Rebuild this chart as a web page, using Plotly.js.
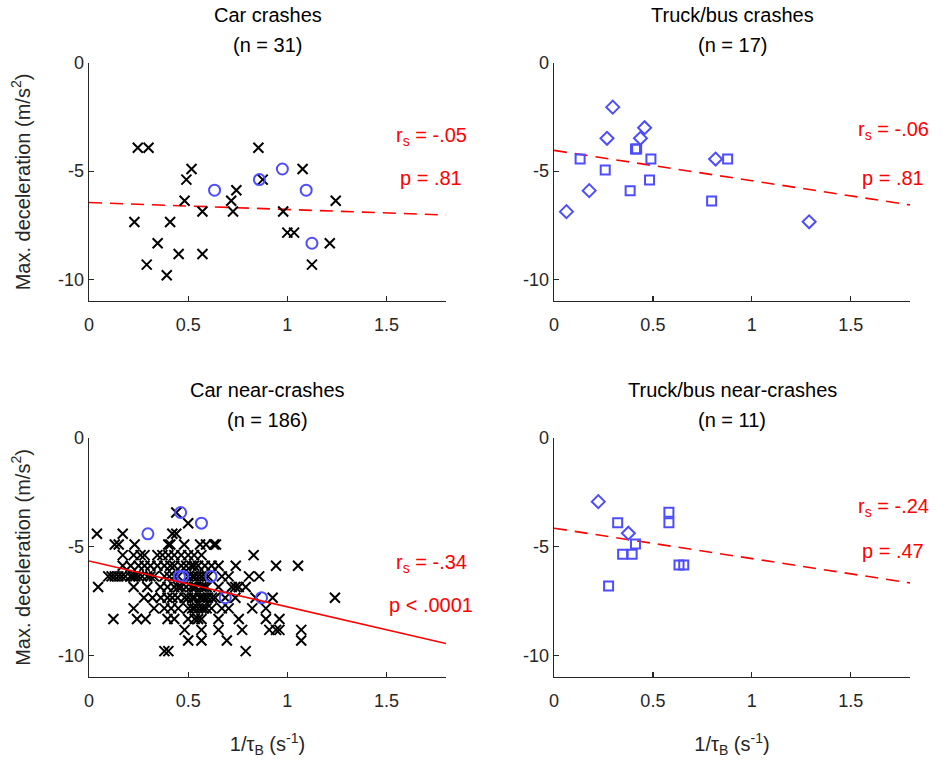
<!DOCTYPE html>
<html>
<head>
<meta charset="utf-8">
<script src="https://cdn.plot.ly/plotly-3.0.1.min.js"></script>
<style>html,body{margin:0;padding:0;background:#fff;}#chart{width:950px;height:763px;}</style>
</head>
<body>
<div id="chart"></div>
<script>
// ---------- DATA ----------
const panelTitles = ["Car crashes", "Truck/bus crashes", "Car near-crashes", "Truck/bus near-crashes"];
const panelCounts = ["(n = 31)", "(n = 17)", "(n = 186)", "(n = 11)"];
const rsLabels = ["r<sub>s</sub> = -.05", "r<sub>s</sub> = -.06", "r<sub>s</sub> = -.34", "r<sub>s</sub> = -.24"];
const pLabels = ["p = .81", "p = .81", "p < .0001", "p = .47"];
const fitIntercept = [-6.45, -4.04, -5.66, -4.15];
const fitSlope = [-0.32, -1.40, -2.11, -1.40];
const fitDash = ["13px,8px", "13px,8px", "solid", "13px,8px"];
const xTickVals = [0, 0.5, 1, 1.5];
const xTickText = ["0", "0.5", "1", "1.5"];
const yTickVals = [0, -5, -10];
const yTickText = ["0", "-5", "-10"];

// Car crashes
const carCrashX = [0.246, 0.30, 0.854, 0.517, 1.077, 0.491, 0.876, 0.743, 0.482, 0.717, 1.244, 0.572, 0.726, 0.979, 0.229, 0.409, 1.0, 1.034, 0.346, 1.214, 0.452, 0.572, 0.291, 1.124, 0.392];
const carCrashY = [-3.92, -3.92, -3.92, -4.90, -4.90, -5.39, -5.39, -5.88, -6.37, -6.37, -6.37, -6.86, -6.86, -6.86, -7.35, -7.35, -7.84, -7.84, -8.33, -8.33, -8.83, -8.83, -9.32, -9.32, -9.81];
const carCrashCircX = [0.633, 0.859, 0.975, 1.095, 1.124];
const carCrashCircY = [-5.88, -5.39, -4.90, -5.88, -8.33];

// Truck/bus crashes
const truckCrashDiaX = [0.297, 0.268, 0.458, 0.437, 0.817, 0.178, 0.063, 1.29];
const truckCrashDiaY = [-2.04, -3.48, -2.99, -3.48, -4.44, -5.90, -6.87, -7.34];
const truckCrashSqX = [0.132, 0.412, 0.418, 0.49, 0.878, 0.259, 0.385, 0.483, 0.797];
const truckCrashSqY = [-4.44, -3.97, -3.97, -4.44, -4.44, -4.94, -5.90, -5.41, -6.38];

// Car near-crashes (crosses)
const carNearX = [
  0.44,
  0.50,
  0.04, 0.17, 0.42, 0.44,
  0.13, 0.15, 0.23, 0.40, 0.41, 0.48, 0.56, 0.59, 0.63, 0.64,
  0.17, 0.225, 0.26, 0.28, 0.345, 0.37, 0.40, 0.43, 0.465, 0.50, 0.53, 0.567, 0.83,
  0.17, 0.21, 0.25, 0.28, 0.31, 0.345, 0.38, 0.41, 0.43, 0.465, 0.49, 0.516, 0.53, 0.55, 0.584, 0.618, 0.653, 0.74, 0.943, 1.054,
  0.097, 0.114, 0.13, 0.148, 0.165, 0.183, 0.208, 0.22, 0.234, 0.25, 0.268, 0.294, 0.31, 0.328, 0.38, 0.405, 0.43, 0.45, 0.50, 0.52, 0.533, 0.55, 0.567, 0.584, 0.60, 0.67, 0.704, 0.807, 0.858,
  0.046, 0.225, 0.294, 0.36, 0.396, 0.43, 0.45, 0.465, 0.49, 0.516, 0.53, 0.54, 0.567, 0.58, 0.593, 0.653, 0.72, 0.738, 0.755, 0.79,
  0.277, 0.32, 0.362, 0.396, 0.42, 0.447, 0.482, 0.50, 0.52, 0.533, 0.558, 0.57, 0.584, 0.60, 0.62, 0.636, 0.687, 0.738, 0.84, 0.926, 1.24,
  0.225, 0.328, 0.38, 0.414, 0.45, 0.50, 0.52, 0.533, 0.55, 0.567, 0.58, 0.593, 0.618, 0.67, 0.704, 0.823, 0.892,
  0.123, 0.242, 0.285, 0.396, 0.43, 0.50, 0.533, 0.55, 0.567, 0.653, 0.755, 0.892, 0.96,
  0.482, 0.567, 0.653, 0.772, 0.909, 0.943, 0.96, 1.07,
  0.50, 0.567, 0.695, 1.07,
  0.38, 0.40, 0.79
];
const carNearY = [
  -3.43,
  -3.92,
  -4.41, -4.41, -4.41, -4.41,
  -4.90, -4.90, -4.90, -4.90, -4.90, -4.90, -4.90, -4.90, -4.90, -4.90,
  -5.39, -5.39, -5.39, -5.39, -5.39, -5.39, -5.39, -5.39, -5.39, -5.39, -5.39, -5.39, -5.39,
  -5.88, -5.88, -5.88, -5.88, -5.88, -5.88, -5.88, -5.88, -5.88, -5.88, -5.88, -5.88, -5.88, -5.88, -5.88, -5.88, -5.88, -5.88, -5.88, -5.88,
  -6.37, -6.37, -6.37, -6.37, -6.37, -6.37, -6.37, -6.37, -6.37, -6.37, -6.37, -6.37, -6.37, -6.37, -6.37, -6.37, -6.37, -6.37, -6.37, -6.37, -6.37, -6.37, -6.37, -6.37, -6.37, -6.37, -6.37, -6.37, -6.37,
  -6.86, -6.86, -6.86, -6.86, -6.86, -6.86, -6.86, -6.86, -6.86, -6.86, -6.86, -6.86, -6.86, -6.86, -6.86, -6.86, -6.86, -6.86, -6.86, -6.86,
  -7.35, -7.35, -7.35, -7.35, -7.35, -7.35, -7.35, -7.35, -7.35, -7.35, -7.35, -7.35, -7.35, -7.35, -7.35, -7.35, -7.35, -7.35, -7.35, -7.35, -7.35,
  -7.84, -7.84, -7.84, -7.84, -7.84, -7.84, -7.84, -7.84, -7.84, -7.84, -7.84, -7.84, -7.84, -7.84, -7.84, -7.84, -7.84,
  -8.33, -8.33, -8.33, -8.33, -8.33, -8.33, -8.33, -8.33, -8.33, -8.33, -8.33, -8.33, -8.33,
  -8.83, -8.83, -8.83, -8.83, -8.83, -8.83, -8.83, -8.83,
  -9.32, -9.32, -9.32, -9.32,
  -9.81, -9.81, -9.81
];
const carNearCircX = [0.462, 0.567, 0.297, 0.456, 0.473, 0.615, 0.687, 0.870];
const carNearCircY = [-3.43, -3.92, -4.41, -6.37, -6.37, -6.37, -7.35, -7.35];

// Truck/bus near-crashes
const truckNearDiaX = [0.224, 0.376];
const truckNearDiaY = [-2.93, -4.38];
const truckNearSqX = [0.322, 0.581, 0.581, 0.412, 0.347, 0.395, 0.632, 0.656, 0.276];
const truckNearSqY = [-3.90, -3.42, -3.90, -4.88, -5.35, -5.35, -5.84, -5.84, -6.81];

// ---------- STYLE ----------
const FONT = '"Liberation Sans", Arial, Helvetica, sans-serif';
const AX = '#262626';
const BLUE = '#4d4dff';
const RED = '#ff0000';

const cross = (x, y, xa, ya) => ({x, y, xaxis: xa, yaxis: ya, type: 'scatter', mode: 'markers', hoverinfo: 'none',
  marker: {symbol: 'x-thin-open', size: 10, color: '#000', line: {color: '#000', width: 2}}});
const circ = (x, y, xa, ya) => ({x, y, xaxis: xa, yaxis: ya, type: 'scatter', mode: 'markers', hoverinfo: 'none',
  marker: {symbol: 'circle-open', size: 11, color: BLUE, line: {color: BLUE, width: 2}}});
const dia = (x, y, xa, ya) => ({x, y, xaxis: xa, yaxis: ya, type: 'scatter', mode: 'markers', hoverinfo: 'none',
  marker: {symbol: 'diamond-open', size: 10, color: BLUE, line: {color: BLUE, width: 2}}});
const sq = (x, y, xa, ya) => ({x, y, xaxis: xa, yaxis: ya, type: 'scatter', mode: 'markers', hoverinfo: 'none',
  marker: {symbol: 'square-open', size: 9, color: BLUE, line: {color: BLUE, width: 2}}});
const fit = (i, xa, ya) => {
  const xs = [0, 1.8];
  return {x: xs, y: xs.map(v => fitIntercept[i] + fitSlope[i] * v), xaxis: xa, yaxis: ya, type: 'scatter', mode: 'lines', hoverinfo: 'none',
    line: {color: RED, width: 1.6, dash: fitDash[i]}};
};

const data = [
  fit(0, 'x', 'y'),
  cross(carCrashX, carCrashY, 'x', 'y'),
  circ(carCrashCircX, carCrashCircY, 'x', 'y'),
  fit(1, 'x2', 'y2'),
  dia(truckCrashDiaX, truckCrashDiaY, 'x2', 'y2'),
  sq(truckCrashSqX, truckCrashSqY, 'x2', 'y2'),
  cross(carNearX, carNearY, 'x3', 'y3'),
  circ(carNearCircX, carNearCircY, 'x3', 'y3'),
  fit(2, 'x3', 'y3'),
  fit(3, 'x4', 'y4'),
  dia(truckNearDiaX, truckNearDiaY, 'x4', 'y4'),
  sq(truckNearSqX, truckNearSqY, 'x4', 'y4')
];

const W = 950, H = 763;
const colX = [[89 / W, 446 / W], [554 / W, 910 / W]];
const rowY = [[1 - 301 / H, 1 - 63 / H], [1 - 677 / H, 1 - 438 / H]];

function xax(dom, anchor, withTitle) {
  const a = {domain: dom, anchor, range: [0, 1.8], showgrid: false, zeroline: false, showline: true, linecolor: AX, linewidth: 1.3,
    ticks: 'inside', ticklen: 5, tickwidth: 1.3, tickcolor: AX, tickvals: xTickVals, ticktext: xTickText, ticklabelstandoff: 7,
    tickfont: {family: FONT, size: 18, color: AX}, fixedrange: true};
  if (withTitle) a.title = {text: '1/τ<sub>B</sub> (s<sup>-1</sup>)', font: {family: FONT, size: 20, color: AX}, standoff: 27};
  return a;
}
function yax(dom, anchor, withTitle) {
  const a = {domain: dom, anchor, range: [-11, 0], showgrid: false, zeroline: false, showline: true, linecolor: AX, linewidth: 1.3,
    ticks: 'inside', ticklen: 5, tickwidth: 1.3, tickcolor: AX, tickvals: yTickVals, ticktext: yTickText,
    tickfont: {family: FONT, size: 18, color: AX}, fixedrange: true};
  if (withTitle) a.title = {text: 'Max. deceleration (m/s<sup>2</sup>)', font: {family: FONT, size: 20, color: AX}, standoff: 22};
  return a;
}

const annotations = [];
const cells = [[0, 0], [1, 0], [0, 1], [1, 1]];
const titleY = [15, 15, 390, 390];
const rsY = [137, 130, 563, 507];
const pY = [178, 178, 605, 551];
cells.forEach(([c, r], i) => {
  const cx = (colX[c][0] + colX[c][1]) / 2;
  annotations.push({xref: 'paper', yref: 'paper', x: cx, y: 1 - titleY[i] / H, xanchor: 'center', yanchor: 'middle',
    text: panelTitles[i], showarrow: false, font: {family: FONT, size: 20, color: '#000'}});
  annotations.push({xref: 'paper', yref: 'paper', x: cx, y: 1 - (titleY[i] + 30) / H, xanchor: 'center', yanchor: 'middle',
    text: panelCounts[i], showarrow: false, font: {family: FONT, size: 20, color: '#000'}});
  const tx = c === 0 ? 431 / W : 893 / W;
  annotations.push({xref: 'paper', yref: 'paper', x: tx, y: 1 - rsY[i] / H, xanchor: 'center', yanchor: 'middle',
    text: rsLabels[i], showarrow: false, font: {family: FONT, size: 20, color: RED}});
  annotations.push({xref: 'paper', yref: 'paper', x: tx, y: 1 - pY[i] / H, xanchor: 'center', yanchor: 'middle',
    text: pLabels[i], showarrow: false, font: {family: FONT, size: 20, color: RED}});
});

const layout = {
  width: W, height: H, margin: {l: 0, r: 0, t: 0, b: 0}, paper_bgcolor: '#fff', plot_bgcolor: '#fff', showlegend: false,
  font: {family: FONT, color: AX},
  xaxis: xax(colX[0], 'y', false), yaxis: yax(rowY[0], 'x', true),
  xaxis2: xax(colX[1], 'y2', false), yaxis2: yax(rowY[0], 'x2', false),
  xaxis3: xax(colX[0], 'y3', true), yaxis3: yax(rowY[1], 'x3', true),
  xaxis4: xax(colX[1], 'y4', true), yaxis4: yax(rowY[1], 'x4', false),
  annotations
};

Plotly.newPlot('chart', data, layout, {displayModeBar: false, staticPlot: true});
</script>
</body>
</html>
